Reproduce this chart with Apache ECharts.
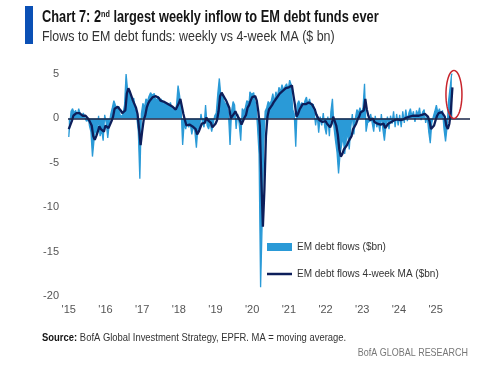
<!DOCTYPE html>
<html><head><meta charset="utf-8">
<script src="https://cdn.jsdelivr.net/npm/echarts@6/dist/echarts.min.js"></script>
<style>html,body{margin:0;padding:0;background:#fff}#c{width:500px;height:371px}</style>
</head><body><div id="c"></div>
<script>
// Tick labels (one per calendar year, placed at the first half-month of the year)
const yearLabels = ["'15","'16","'17","'18","'19","'20","'21","'22","'23","'24","'25"];
const periodsPerYear = 24;      // half-monthly sampling
const axisSlots = 263;          // axis runs a little past the last observation

// Weekly EM debt fund flows ($bn), read at half-month steps from Jan 2015
const flows2015 = [-2.1,-1.0,0.8,1.1,0.6,0.9,0.3,1.1,0.5,0.2,0.6,0.1,-0.3,-0.2,-0.8,-1.5,-4.3,-2.5,-1.2,-1.8,0.3,-2.0,-1.3,-2.5];
const flows2016 = [0.4,-0.5,-2.2,-0.6,0.5,1.2,2.0,1.5,1.1,1.3,0.4,0.2,0.6,1.5,5.0,3.2,2.9,2.5,1.4,2.3,1.0,0.2,-1.5,-6.8];
const flows2017 = [0.5,1.7,1.2,2.2,1.9,2.5,2.9,2.6,2.8,2.3,2.0,2.5,1.8,2.2,1.6,1.9,1.5,1.7,1.3,1.8,1.0,1.2,0.6,1.5];
const flows2018 = [3.7,2.6,1.0,-3.0,-0.5,-1.2,-0.3,-1.0,-0.6,-1.8,-0.8,-1.5,-3.3,-0.9,-1.2,0.5,-0.5,-1.0,1.5,-0.8,-1.2,-0.4,-1.5,-0.6];
const flows2019 = [0.3,0.6,2.8,4.5,2.6,2.4,2.0,1.5,1.9,0.5,-3.0,0.8,1.9,1.5,-1.2,0.5,-0.6,-2.5,1.1,0.8,1.2,2.0,1.8,3.0];
const flows2020 = [2.7,2.9,2.2,1.5,-1.0,-4.0,-19.0,-12.0,-3.0,0.8,1.2,1.9,1.6,2.0,2.8,1.8,3.0,2.4,3.5,3.0,3.8,3.2,3.6,3.9];
const flows2021 = [3.2,4.3,3.8,1.0,0.5,-3.2,1.6,2.0,1.4,1.8,1.2,2.0,2.4,1.5,2.2,1.4,1.6,0.8,-0.8,0.5,-1.6,0.2,-0.8,0.6];
const flows2022 = [-1.0,-1.8,0.2,-2.0,0.8,2.2,-1.0,-2.5,-3.8,-6.2,-4.0,-3.0,-2.0,-4.0,-2.5,-1.5,-3.5,-1.0,0.5,-1.8,0.0,1.0,0.6,1.2];
const flows2023 = [0.5,1.2,3.9,-1.5,-0.5,-0.3,0.5,-0.5,-1.5,0.3,-1.0,-0.4,-1.5,0.5,-1.2,-2.5,-0.8,0.2,-1.2,0.3,-0.6,0.8,-1.0,0.5];
const flows2024 = [-0.8,0.4,-1.0,0.8,-0.5,1.0,-0.3,0.6,1.1,0.2,0.8,-0.4,0.9,0.4,1.2,-0.2,0.7,1.0,-0.5,0.3,-1.5,-2.8,-0.5,0.2];
const flows2025 = [0.8,1.5,0.6,1.1,0.3,0.9,-1.2,-2.6,-1.0,2.0,3.5,5.0];

// 4-week moving average ($bn), same sampling
const ma2015 = [-1.2,-1.0,-0.3,0.3,0.5,0.6,0.6,0.6,0.5,0.3,0.3,0.3,0.1,-0.1,-0.3,-0.8,-2.0,-2.4,-2.0,-1.5,-0.9,-1.2,-1.3,-1.5];
const ma2016 = [-0.8,-0.8,-1.1,-0.7,-0.3,0.2,1.1,1.3,1.3,1.2,0.9,0.6,0.5,0.9,2.8,3.4,3.0,2.5,2.0,1.8,1.2,0.5,-1.2,-3.0];
const ma2017 = [-1.5,-0.2,0.3,1.2,1.7,2.0,2.2,2.4,2.5,2.5,2.3,2.3,2.0,2.0,1.9,1.8,1.7,1.6,1.5,1.5,1.3,1.2,1.0,1.0];
const ma2018 = [1.7,2.2,2.1,0.5,-0.2,-0.8,-0.6,-0.7,-0.7,-0.9,-1.0,-1.2,-1.8,-1.5,-1.3,-0.6,-0.4,-0.5,0.1,-0.2,-0.4,-0.5,-1.0,-0.9];
const ma2019 = [-0.6,-0.2,0.8,2.5,2.9,2.6,2.3,2.0,1.8,1.2,0.0,0.0,0.5,0.8,0.4,0.2,-0.2,-0.7,-0.3,0.1,0.4,1.2,1.5,2.0];
const ma2020 = [2.4,2.6,2.5,2.0,0.8,-0.8,-7.0,-12.2,-8.0,-2.0,0.2,1.0,1.2,1.5,1.8,1.9,2.3,2.3,2.8,2.9,3.1,3.2,3.4,3.5];
const ma2021 = [3.5,3.6,3.7,2.6,1.5,0.2,0.5,1.0,1.3,1.6,1.5,1.6,1.8,1.8,1.9,1.6,1.5,1.0,0.4,0.3,-0.2,-0.2,-0.4,-0.2];
const ma2022 = [-0.3,-0.6,-0.5,-1.0,-0.6,0.2,0.0,-0.8,-1.8,-3.5,-4.3,-4.0,-3.5,-3.3,-3.0,-2.6,-2.4,-2.0,-1.2,-1.0,-0.6,-0.1,0.2,0.7];
const ma2023 = [0.8,0.9,2.2,1.0,0.3,-0.2,-0.2,0.0,-0.4,-0.3,-0.6,-0.6,-0.7,-0.5,-0.6,-1.1,-1.0,-0.6,-0.7,-0.4,-0.3,-0.2,-0.3,-0.1];
const ma2024 = [-0.2,-0.2,-0.3,-0.1,-0.2,0.1,0.1,0.2,0.3,0.3,0.4,0.3,0.4,0.3,0.5,0.4,0.4,0.5,0.3,0.2,-0.3,-1.2,-1.3,-0.8];
const ma2025 = [-0.2,0.3,0.6,0.8,0.7,0.6,0.2,-0.8,-1.2,-0.6,0.9,3.5];

const flows = [].concat(flows2015,flows2016,flows2017,flows2018,flows2019,flows2020,flows2021,flows2022,flows2023,flows2024,flows2025);
const ma = [].concat(ma2015,ma2016,ma2017,ma2018,ma2019,ma2020,ma2021,ma2022,ma2023,ma2024,ma2025);

const categories = [];
for (let i = 0; i < axisSlots; i++) categories.push('p' + i);

const FONT = "'Liberation Sans',Arial,sans-serif";
const FLOW_NAME = 'EM debt flows ($bn)';
const MA_NAME = 'EM debt flows 4-week MA ($bn)';
const FLOW_COLOR = '#2a9ad7';
const MA_COLOR = '#0d1e5a';
const chart = echarts.init(document.getElementById('c'), null, {renderer: 'canvas'});
chart.setOption({
  animation: false,
  backgroundColor: '#fff',
  grid: {left: 68, top: 74, width: 402, height: 222, containLabel: false},
  legend: [
    {
      orient: 'vertical', left: 262, top: 237, itemWidth: 25, itemHeight: 8,
      textStyle: {fontFamily: FONT, fontSize: 10, color: '#333'},
      data: [{name: FLOW_NAME, icon: 'rect', itemStyle: {color: FLOW_COLOR}}]
    },
    {
      orient: 'vertical', left: 262, top: 264, itemWidth: 25, itemHeight: 2.5,
      textStyle: {fontFamily: FONT, fontSize: 10, color: '#333'},
      data: [{name: MA_NAME, icon: 'rect', itemStyle: {color: MA_COLOR}}]
    }
  ],
  xAxis: {
    type: 'category', data: categories, boundaryGap: true,
    axisLine: {show: false}, axisTick: {show: false}, splitLine: {show: false},
    axisLabel: {
      interval: (idx) => idx % periodsPerYear === 0 && idx / periodsPerYear < yearLabels.length,
      formatter: (v, idx) => yearLabels[idx / periodsPerYear] || '',
      fontFamily: FONT, fontSize: 11, color: '#555', margin: 8
    }
  },
  yAxis: {
    type: 'value', min: -20, max: 5, interval: 5,
    axisLine: {show: false}, axisTick: {show: false}, splitLine: {show: false},
    axisLabel: {fontFamily: FONT, fontSize: 11, color: '#555', margin: 9}
  },
  series: [
    {
      // weekly flows drawn as contiguous columns (stepped area down to zero)
      name: FLOW_NAME, type: 'line', data: flows, step: 'middle',
      symbol: 'none', showSymbol: false,
      lineStyle: {color: FLOW_COLOR, width: 1.3},
      areaStyle: {color: FLOW_COLOR, opacity: 1, origin: 0},
      itemStyle: {color: FLOW_COLOR}, z: 2,
      markLine: {
        silent: true, symbol: ['none', 'none'], label: {show: false},
        lineStyle: {color: '#1a2547', width: 1.5, type: 'solid'},
        data: [{yAxis: 0}]
      }
    },
    {
      name: MA_NAME, type: 'line', data: ma,
      symbol: 'none', showSymbol: false,
      lineStyle: {color: MA_COLOR, width: 2.3}, itemStyle: {color: MA_COLOR}, z: 3
    }
  ],
  graphic: [
    {id: 'bar', type: 'rect', x: 25, y: 6, shape: {x: 0, y: 0, width: 8, height: 38}, style: {fill: '#0b50b5'}},
    {id: 'title', type: 'text', x: 42, y: 10, scaleX: 0.8, style: {
      text: '{a|Chart 7: 2}{s|nd}{a| largest weekly inflow to EM debt funds ever}',
      verticalAlign: 'top',
      rich: {
        a: {fontFamily: FONT, fontSize: 16, fontWeight: 'bold', fill: '#141414'},
        s: {fontFamily: FONT, fontSize: 9, fontWeight: 'bold', fill: '#141414', verticalAlign: 'top'}
      }
    }},
    {id: 'sub', type: 'text', x: 42, y: 29, scaleX: 0.83, style: {
      text: 'Flows to EM debt funds: weekly vs 4-week MA ($ bn)', verticalAlign: 'top',
      fontFamily: FONT, fontSize: 15, fill: '#333'
    }},
    {id: 'src', type: 'text', x: 42, y: 332, scaleX: 0.82, style: {
      text: '{b|Source:} {n|BofA Global Investment Strategy, EPFR. MA = moving average.}',
      verticalAlign: 'top',
      rich: {
        b: {fontFamily: FONT, fontSize: 11.5, fontWeight: 'bold', fill: '#141414'},
        n: {fontFamily: FONT, fontSize: 11.5, fill: '#333'}
      }
    }},
    {id: 'brand', type: 'text', x: 468, y: 347, scaleX: 0.78, style: {
      text: 'BofA GLOBAL RESEARCH', align: 'right', verticalAlign: 'top',
      fontFamily: FONT, fontSize: 11.5, fill: '#777'
    }}
  ]
});

// Red highlight ellipse around the latest inflow
const c = chart.convertToPixel({xAxisIndex: 0, yAxisIndex: 0}, [flows.length - 0.5, 2.7]);
const pts = [];
for (let k = 0; k < 48; k++) {
  const t = k / 48 * Math.PI * 2;
  pts.push([c[0] + 8 * Math.cos(t), c[1] + 24 * Math.sin(t)]);
}
chart.setOption({graphic: [
  {id: 'ring', type: 'polygon', shape: {points: pts}, style: {fill: 'none', stroke: '#c8242c', lineWidth: 1.5}, z: 10}
]});
</script>
</body></html>
